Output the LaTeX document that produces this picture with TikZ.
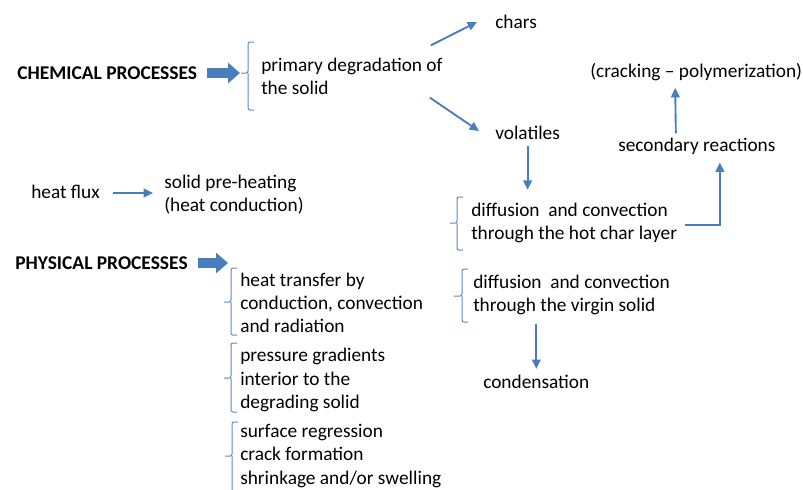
\documentclass[tikz,border=0pt]{standalone}
\usepackage{fontspec}
\setmainfont{Carlito}
\usetikzlibrary{arrows.meta,calc}
\definecolor{arrblue}{HTML}{4A7EBB}
\definecolor{brcblue}{HTML}{5B8BC5}
\tikzset{
  txt/.style={anchor=west,align=left,inner sep=0pt,font=\fontsize{14.5}{17.4}\selectfont},
  hdr/.style={txt,font=\fontsize{14.6}{17}\selectfont\bfseries},
  arr/.style={draw=arrblue,line width=1.4pt,-{Triangle[length=7pt,width=6.5pt]}},
  fat/.style={draw=arrblue,line width=7.5pt,-{Triangle[length=9pt,width=15pt]}},
  brc/.style={draw=brcblue,line width=0.75pt,rounded corners=1.5pt}
}
\begin{document}
\begin{tikzpicture}[x=0.75pt,y=-0.75pt]
  \useasboundingbox (0,0) rectangle (803,489);
  % chemical side
  \node[hdr] (chem) at(17,73){CHEMICAL PROCESSES};
  \node[txt] (prim) at(261,76){primary degradation of\\the solid};
  \node[txt] (chars) at(495,22){chars};
  \node[txt] (vol) at(495,133){volatiles};
  \node[txt] (crack) at(590,72){(cracking -- polymerization)};
  \node[txt] (sec) at(618,146){secondary reactions};
  \node[txt] (hot) at(471,223){diffusion\ \ and convection\\through the hot char layer};
  \node[txt] (virg) at(473,295){diffusion\ \ and convection\\through the virgin solid};
  \node[txt] (cond) at(483,382){condensation};
  % physical side
  \node[txt] (flux) at(31,192){heat flux};
  \node[txt] (preh) at(164,195){solid pre-heating\\(heat conduction)};
  \node[hdr] (phys) at(15,263){PHYSICAL PROCESSES};
  \node[txt] (ht) at(240,303){heat transfer by\\conduction, convection\\and radiation};
  \node[txt] (pg) at(240,380){pressure gradients\\interior to the\\degrading solid};
  \node[txt] (sr) at(240,456){surface regression\\crack formation\\shrinkage and/or swelling};
  % braces
  \draw[brc] (254,42) -- (248,42) -- (248,73) -- (241,73) (248,73) -- (248,110) -- (254,110);
  \draw[brc] (463,197) -- (457,197) -- (457,223) -- (450,223) (457,223) -- (457,250) -- (463,250);
  \draw[brc] (468,269) -- (462,269) -- (462,296) -- (454,296) (462,296) -- (462,322) -- (468,322);
  \draw[brc] (237,268) -- (231,268) -- (231,302) -- (224,302) (231,302) -- (231,335) -- (237,335);
  \draw[brc] (237,343) -- (231,343) -- (231,378) -- (224,378) (231,378) -- (231,412) -- (237,412);
  \draw[brc] (238,422) -- (232,422) -- (232,456) -- (225,456) (232,456) -- (232,495);
  % brace tips
  \coordinate (chemtip) at(240,73);
  \coordinate (phystip) at(228,263);
  % fat arrows
  \draw[fat] ($(chem.east)+(10,0)$) -- (chemtip);
  \draw[fat] ($(phys.east)+(10,0)$) -- (phystip);
  % thin arrows
  \draw[arr] ($(prim.north east)+(-12,-12)$) -- ($(chars.west)+(-18,0)$);
  \draw[arr] ($(prim.south east)+(-13,3)$) -- ($(vol.west)+(-16,-2)$);
  \draw[arr] ($(vol.south)+(0,6)$) -- ($(vol.south |- hot.north)+(0,-13)$);
  \draw[arr] ($(sec.north)+(-21,-4)$) -- ($(crack.south)+(-21,7)$);
  \draw[arr] ($(hot.east)+(8,2)$) -| ($(sec.south)+(23,8)$);
  \draw[arr] ($(virg.south -| cond.north)+(0,9)$) -- ($(cond.north)+(0,-6)$);
  \draw[arr] ($(flux.east)+(13,1)$) -- ($(preh.west)+(-11,-2)$);
\end{tikzpicture}
\end{document}
